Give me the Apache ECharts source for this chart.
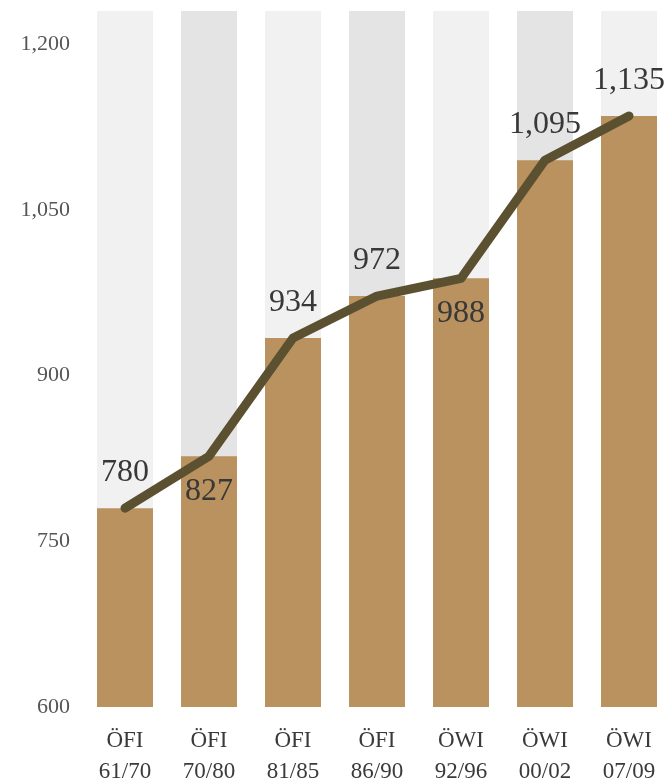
<!DOCTYPE html>
<html>
<head>
<meta charset="utf-8">
<script src="https://cdn.jsdelivr.net/npm/echarts@6/dist/echarts.min.js"></script>
<style>
html,body{margin:0;padding:0;background:#fff;}
#chart{width:666px;height:779px;}
</style>
</head>
<body>
<div id="chart"></div>
<script>
const categories = ['ÖFI\n61/70', 'ÖFI\n70/80', 'ÖFI\n81/85', 'ÖFI\n86/90', 'ÖWI\n92/96', 'ÖWI\n00/02', 'ÖWI\n07/09'];
const values = [780, 827, 934, 972, 988, 1095, 1135];
const labelSides = ['top', 'bottom', 'top', 'top', 'bottom', 'top', 'top'];
const yMin = 600;
const yMax = 1230;
const yInterval = 150;
const backgroundColors = ['#f1f1f1', '#e4e4e4'];

const serif = '"Liberation Serif", "DejaVu Serif", serif';

const chart = echarts.init(document.getElementById('chart'), null, {renderer: 'canvas'});
chart.setOption({
  animation: false,
  backgroundColor: '#ffffff',
  grid: {left: 83, right: -5, top: 11, bottom: 72, outerBoundsMode: 'none', containLabel: false},
  xAxis: {
    type: 'category',
    data: categories,
    axisLine: {show: false},
    axisTick: {show: false},
    axisLabel: {
      fontFamily: serif, fontSize: 23, color: '#3a3a3a', lineHeight: 31, margin: 18
    }
  },
  yAxis: {
    type: 'value',
    min: yMin, max: yMax, interval: yInterval,
    splitLine: {show: false},
    axisLine: {show: false},
    axisTick: {show: false},
    axisLabel: {
      fontFamily: serif, fontSize: 22, color: '#555', margin: 13,
      showMaxLabel: false,
      formatter: v => v.toLocaleString('en-US')
    }
  },
  series: [
    {
      type: 'bar',
      data: categories.map((c, i) => ({value: yMax, itemStyle: {color: backgroundColors[i % 2]}})),
      barWidth: 56,
      barGap: '-100%',
      silent: true,
      z: 1
    },
    {
      type: 'bar',
      data: values,
      barWidth: 56,
      itemStyle: {color: '#b9925f'},
      z: 2
    },
    {
      type: 'line',
      data: values.map((v, i) => ({value: v, label: {position: labelSides[i]}})),
      symbol: 'circle',
      symbolSize: 1,
      showSymbol: true,
      itemStyle: {color: '#5b5131'},
      lineStyle: {color: '#5b5131', width: 9, cap: 'round', join: 'round'},
      label: {
        show: true,
        distance: 19,
        fontFamily: serif, fontSize: 32, color: '#383838',
        formatter: p => p.value.toLocaleString('en-US')
      },
      z: 3
    }
  ]
});
</script>
</body>
</html>
